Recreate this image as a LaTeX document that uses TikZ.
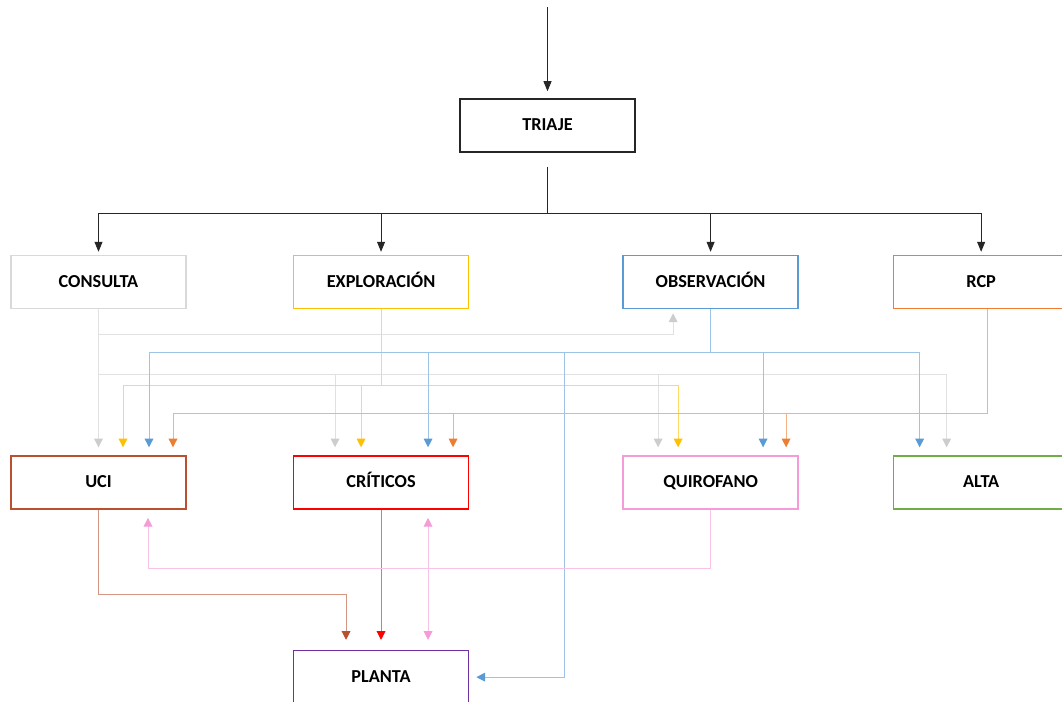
\documentclass[tikz,border=0pt]{standalone}
\usepackage{fontspec}
\setmainfont{Carlito}
\usepackage{xcolor}
\usepackage{tikz}
\usetikzlibrary{arrows.meta,positioning}

\definecolor{grisB}{HTML}{D9D9D9}
\definecolor{grisF}{HTML}{CDCDCD}
\definecolor{amarillo}{HTML}{FFC000}
\definecolor{azul}{HTML}{5B9BD5}
\definecolor{naranja}{HTML}{ED7D31}
\definecolor{ladrillo}{HTML}{B9502F}
\definecolor{rojo}{HTML}{FF0000}
\definecolor{rosa}{HTML}{F59BD7}
\definecolor{verde}{HTML}{70AD47}
\definecolor{morado}{HTML}{7030A0}

\begin{document}
\begin{tikzpicture}[
    every node/.style={font=\fontsize{13}{15}\selectfont\bfseries},
    box/.style={draw, line width=1.1pt, minimum width=4.375cm, minimum height=1.325cm, text height=9pt, text depth=1.5pt, fill=white},
    lineak/.style={draw=black!85, line width=0.6pt},
    arrk/.style={lineak, -{Triangle[length=2.5mm,width=2mm]}},
    lin/.style={line width=0.7pt, draw=#1!60},
    con/.style={lin=#1, -{Triangle[length=2.2mm,width=2.2mm,color=#1]}},
    condoble/.style={lin=#1, {Triangle[length=2.2mm,width=2.2mm,color=#1]}-{Triangle[length=2.2mm,width=2.2mm,color=#1]}},
]
    \useasboundingbox (0,0) rectangle (26.55,-17.55);

    % Triaje
    \node[box, draw=black!85] (triaje) at (13.6875,-3.1375) {TRIAJE};

    % Second row
    \node[box, draw=grisB, below=2.55cm of triaje, xshift=-11.225cm] (consulta) {CONSULTA};
    \node[box, draw=amarillo, right=2.65cm of consulta] (exploracion) {EXPLORACIÓN};
    \node[box, draw=azul, right=3.825cm of exploracion] (observacion) {OBSERVACIÓN};
    \node[box, draw=naranja, right=2.35cm of observacion] (rcp) {RCP};

    % Third row
    \node[box, draw=ladrillo, below=3.65cm of consulta] (uci) {UCI};
    \node[box, draw=rojo, below=3.65cm of exploracion] (criticos) {CRÍTICOS};
    \node[box, draw=rosa, below=3.65cm of observacion] (quirofano) {QUIROFANO};
    \node[box, draw=verde, below=3.65cm of rcp] (alta) {ALTA};

    % Planta
    \node[box, draw=morado, below=3.5cm of criticos] (planta) {PLANTA};

    % Triaje arrows
    \coordinate[above=2.275cm of triaje] (inicio);
    \draw[arrk] (inicio) -- ([yshift=1.75mm]triaje.north);
    \coordinate[below=1.525cm of triaje] (busT);
    \draw[lineak] ([yshift=-3.5mm]triaje.south) -- (busT);
    \foreach \n in {consulta,exploracion,observacion,rcp}
        \draw[arrk] (busT) -| ([yshift=0.75mm]\n.north);

    % Consulta
    \coordinate (g1) at ([yshift=-6.25mm]consulta.south);
    \coordinate (g2) at ([yshift=-16.25mm]consulta.south);
    \draw[con=grisF] (consulta.south) -- (g1) -| ([xshift=-9.375mm,yshift=-1mm]observacion.south);
    \draw[con=grisF] (g1) -- ([yshift=2mm]uci.north);
    \draw[con=grisF] (g2) -| ([xshift=-11.5mm,yshift=2mm]criticos.north);
    \draw[con=grisF] (g2) -| ([xshift=-13.125mm,yshift=2mm]quirofano.north);
    \draw[con=grisF] (g2) -| ([xshift=-8.625mm,yshift=2mm]alta.north);

    % Exploracion
    \coordinate (a1) at ([yshift=-19mm]exploracion.south);
    \draw[lin=amarillo] (exploracion.south) -- (a1);
    \draw[con=amarillo] (a1) -| ([xshift=6.125mm,yshift=2mm]uci.north);
    \draw[con=amarillo] (a1) -| ([xshift=-5mm,yshift=2mm]criticos.north);
    \draw[con=amarillo] (a1) -| ([xshift=-8.125mm,yshift=2mm]quirofano.north);

    % Observacion
    \coordinate (b1) at ([yshift=-10.75mm]observacion.south);
    \coordinate (b2) at (observacion.south |- planta.east);
    \draw[lin=azul] (observacion.south) -- (b1);
    \draw[con=azul] (b1) -| ([xshift=12.625mm,yshift=2mm]uci.north);
    \draw[con=azul] (b1) -| ([xshift=11.75mm,yshift=2mm]criticos.north);
    \draw[con=azul] (b1) -| ([xshift=13.125mm,yshift=2mm]quirofano.north);
    \draw[con=azul] (b1) -| ([xshift=-15.375mm,yshift=2mm]alta.north);
    \draw[con=azul] (b1) -| ([xshift=-36.625mm]b2) -- ([xshift=1.75mm]planta.east);

    % RCP
    \coordinate (c1) at ([xshift=1.625mm,yshift=-26mm]rcp.south);
    \draw[lin=naranja] ([xshift=1.625mm]rcp.south) -- (c1);
    \draw[con=naranja] (c1) -| ([xshift=18.625mm,yshift=2mm]uci.north);
    \draw[con=naranja] (c1) -| ([xshift=18mm,yshift=2mm]criticos.north);
    \draw[con=naranja] (c1) -| ([xshift=18.875mm,yshift=2mm]quirofano.north);

    % To planta
    \draw[con=ladrillo] (uci.south) -- ++(0,-2.125) -| ([xshift=-8.75mm,yshift=2.5mm]planta.north);
    \draw[con=rojo] (criticos.south) -- ([yshift=2.5mm]planta.north);
    \draw[condoble=rosa] ([xshift=11.75mm,yshift=-2mm]criticos.south) -- ([xshift=11.75mm,yshift=2.5mm]planta.north);
    \draw[con=rosa] (quirofano.south) -- ++(0,-1.475) -| ([xshift=12.375mm,yshift=-2mm]uci.south);
\end{tikzpicture}
\end{document}
